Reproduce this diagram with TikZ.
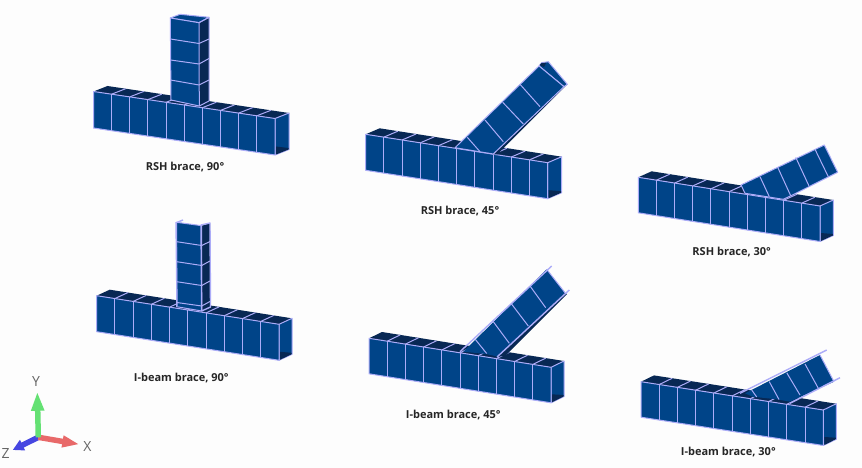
\documentclass[tikz,border=0pt]{standalone}
\usepackage{fontspec}
\setsansfont{Open Sans}
\usetikzlibrary{calc, arrows.meta}
\definecolor{web}{RGB}{0,68,136}
\definecolor{shade}{RGB}{8,40,84}
\definecolor{edge}{RGB}{172,172,248}
\definecolor{paper}{RGB}{253,253,253}
\tikzstyle{mesh} = [draw=edge, line width=1pt, line join=round]
\tikzstyle{face} = [mesh, fill=web]
\tikzstyle{inner} = [fill=shade]
\tikzstyle{caption} = [font=\sffamily\bfseries\fontsize{11}{12}\selectfont, text=black!85, inner sep=0pt]
\tikzstyle{axis_label} = [font=\sffamily\fontsize{14}{14}\selectfont, text=black!60, inner sep=0pt]
\tikzstyle{axis_arrow} = [line width=5.5pt]

% chord with ten cells: front top left, front top right, height, back offset
\newcommand{\chord}[5]{
    \coordinate (fl) at (#1);
    \coordinate (fr) at (#2);
    \fill [inner] (fl) -- (fr) -- ++(#4,#5) -- ($(fl)+(#4,#5)$) -- cycle;
    \foreach \t in {0.1,0.2,...,0.95} {
        \draw [mesh] ($(fl)!\t!(fr)$) -- ++(#4,#5);
    }
    \draw [face] (fr) -- ++(#4,#5) -- ++(0,#3) -- ($(fr)+(0,#3)$) -- cycle;
    \fill [inner] ($(fr)+(1,#3-8.5)$) -- ($(fr)+(#4-0.5,#3+#5-1.5)$) -- ($(fr)+(#4-0.5,#3+#5)$) -- ($(fr)+(1,#3-0.5)$) -- cycle;
    \draw [face] (fl) -- (fr) -- ++(0,#3) -- ($(fl)+(0,#3)$) -- cycle;
    \foreach \t in {0.1,0.2,...,0.95} {
        \draw [mesh] ($(fl)!\t!(fr)$) -- ++(0,#3);
    }
}

\begin{document}
\begin{tikzpicture}[x=1pt, y=-1pt]

    \useasboundingbox [fill=paper] (0,0) rectangle (862,468);

    % RSH brace, 90
    \chord{93.5,91.5}{275,118.5}{36.5}{14}{-5.5}
    \fill [inner] (199,22.7) -- (209,17.3) -- (209,101) -- (199.3,106) -- cycle;
    \draw [face] (170.3,18) -- (180,14.3) -- (209,17.3) -- (199,22.7) -- cycle;
    \draw [face] (170.3,18) -- (199,22.7) -- (199.3,106) -- (171,100) -- cycle;
    \draw [mesh] (199,22.7) -- (209,17.3) -- (209,101) -- (199.3,106);
    \draw [mesh] (170.5,39) -- (199,43.5) -- (209,39);
    \draw [mesh] (170.5,60) -- (199,64) -- (209,58.5);
    \draw [mesh] (170.5,80) -- (199,85) -- (209,80);
    \node (rsh90) [caption] at (185,166.7) {RSH brace, 90°};

    % I-beam brace, 90
    \chord{96.7,295.7}{279,324.3}{36}{13}{-6}
    \fill [inner] (201.7,225.7) -- (210,223.3) -- (210,306.7) -- (201.7,311) -- cycle;
    \draw [face] (176.7,222.3) -- (201.7,225.7) -- (201.7,311) -- (176.7,306.7) -- cycle;
    \draw [mesh] (176.7,241.7) -- (201.7,245.5) -- (210,241.5);
    \draw [mesh] (176.7,261.7) -- (201.7,265.5) -- (210,261);
    \draw [mesh] (176.7,281.7) -- (201.7,285.5) -- (210,281);
    \draw [mesh] (176.7,302.5) -- (201.7,306) -- (210,301.5);
    \draw [mesh, line width=1.4pt] (175.5,223) -- (183,220) (176,222) -- (177,306);
    \draw [mesh, line width=1.4pt] (201,225) -- (210,223) -- (210.5,307) -- (201.7,311) -- cycle;
    \node (ibeam90) [caption] at (181.3,378) {I-beam brace, 90°};

    % RSH brace, 45
    \chord{365.7,134.3}{547.7,162.7}{36}{14}{-6}
    \fill [inner] (564,86.7) -- (567.3,84.3) -- (497,154.5) -- (493.3,154.5) -- cycle;
    \draw [face] (539,66) -- (541.7,62.7) -- (548.3,61.7) -- (567.3,84.3) -- (564,86.7) -- cycle;
    \fill [inner] (539.5,65) -- (541.7,63) -- (546,63) -- (544,67) -- cycle;
    \draw [face] (455,147.7) -- (539,66) -- (564,86.7) -- (493.3,154) -- cycle;
    \draw [mesh] (520,84.3) -- (540,106.7);
    \draw [mesh] (502.7,102.3) -- (523.3,124);
    \draw [mesh] (485,120) -- (503.3,141.7);
    \draw [mesh] (467.3,137.3) -- (480,151.7);
    \node (rsh45) [caption] at (460,210.7) {RSH brace, 45°};

    % I-beam brace, 45
    \chord{369,338.3}{551,367.3}{35.5}{13}{-6.3}
    \fill [inner] (565,292.7) -- (567,294) -- (505,356) -- (498.3,356.7) -- cycle;
    \fill [web] (463.3,351.7) -- (546.7,269.3) -- (565,292.7) -- (498.3,356.7) -- (486,354) -- cycle;
    \draw [mesh] (530,286) -- (545.7,307.7);
    \draw [mesh] (511,303.3) -- (528.3,326);
    \draw [mesh] (493.3,321.7) -- (509.3,343.3);
    \draw [mesh] (475,339) -- (486.7,353.5);
    \draw [mesh] (546.7,269.3) -- (565,292.7);
    \draw [mesh, line width=1.4pt] (460,351.7) -- (551.7,266);
    \draw [mesh, line width=1.4pt] (497,357) -- (569.3,290);
    \node (ibeam45) [caption] at (453.3,415) {I-beam brace, 45°};

    % RSH brace, 30
    \chord{638.3,177.3}{820,206}{35.5}{13.3}{-6}
    \draw [face] (741,185) -- (745,193.3) -- (783.3,199.3) -- (791,195.7) -- (837.7,172.3) -- (824.3,145) -- cycle;
    \draw [mesh] (815,149.3) -- (828.3,176.7);
    \draw [mesh] (795.7,157.3) -- (809,186);
    \draw [mesh] (777.7,167.3) -- (790.7,195.7);
    \draw [mesh] (760,176.7) -- (769.3,196.7);
    \node (rsh30) [caption] at (731.7,252) {RSH brace, 30°};

    % I-beam brace, 30
    \chord{641,381.7}{823.3,410}{35.5}{13}{-6.3}
    \fill [web] (745,393.3) -- (752.7,396.7) -- (776.7,399.3) -- (790,401.7) -- (834,381.7) -- (820,355) -- cycle;
    \draw [mesh] (805,364) -- (818.3,388.3);
    \draw [mesh] (786.7,372.7) -- (800,395);
    \draw [mesh] (769.3,381.7) -- (779,399.5);
    \draw [mesh] (751.7,390) -- (756.7,397);
    \draw [mesh] (820,355) -- (834,381.7);
    \draw [mesh, line width=1.4pt] (740,393.3) -- (826.7,350);
    \draw [mesh, line width=1.4pt] (790,403.3) -- (840,377.7);
    \node (ibeam30) [caption] at (728.3,451.7) {I-beam brace, 30°};

    % axes
    \coordinate (origin) at (38.3,437.3);
    \coordinate (xtip) at (79.3,444.3);
    \coordinate (ytip) at (37.3,391.7);
    \coordinate (ztip) at (12.7,450);
    \draw [axis_arrow, color={rgb,255:red,70;green,70;blue,225}, -{Triangle[length=11pt,width=11pt]}] (origin) -- (ztip);
    \draw [axis_arrow, color={rgb,255:red,232;green,105;blue,105}, -{Triangle[length=17pt,width=11pt]}] (origin) -- (xtip);
    \draw [axis_arrow, color={rgb,255:red,100;green,225;blue,115}, -{Triangle[length=19pt,width=12pt]}] (origin) -- (ytip);
    \node (ylabel) [axis_label] at (36,381.7) {Y};
    \node (xlabel) [axis_label] at (87.3,446.7) {X};
    \node (zlabel) [axis_label] at (5.7,453.3) {Z};

\end{tikzpicture}
\end{document}
